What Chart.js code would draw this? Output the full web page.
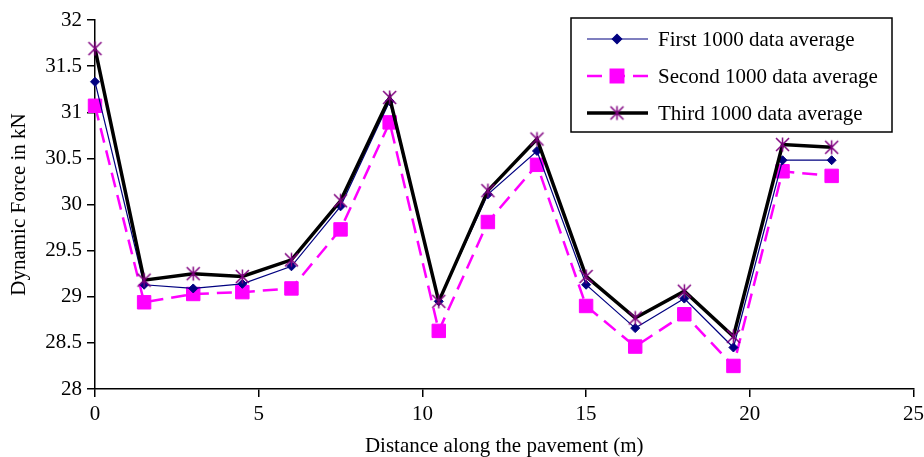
<!DOCTYPE html>
<html>
<head>
<meta charset="utf-8">
<script src="https://cdn.jsdelivr.net/npm/chart.js@4.4.1/dist/chart.umd.min.js"></script>
<style>
  html, body { margin: 0; padding: 0; background: #fff; }
  canvas { display: block; }
</style>
</head>
<body>
<canvas id="chart" width="924" height="457"></canvas>
<script>
// distance along the pavement (m)
const distances = [0, 1.5, 3, 4.5, 6, 7.5, 9, 10.5, 12, 13.5, 15, 16.5, 18, 19.5, 21, 22.5];

// dynamic force averages (kN)
const firstAvg  = [31.33, 29.13, 29.09, 29.14, 29.33, 29.98, 31.12, 28.95, 30.11, 30.58, 29.13, 28.66, 28.98, 28.45, 30.48, 30.48];
const secondAvg = [31.07, 28.94, 29.03, 29.05, 29.09, 29.73, 30.89, 28.63, 29.81, 30.43, 28.90, 28.46, 28.81, 28.25, 30.36, 30.31];
const thirdAvg  = [31.69, 29.18, 29.25, 29.22, 29.40, 30.04, 31.16, 28.95, 30.15, 30.71, 29.22, 28.77, 29.06, 28.57, 30.65, 30.62];

const seriesNames = ["First 1000 data average", "Second 1000 data average", "Third 1000 data average"];

// axis ranges
const xRange = [0, 25, 5];
const yRange = [28, 32, 0.5];

const FONT = "'Liberation Serif', 'Times New Roman', serif";
Chart.defaults.font.family = FONT;
Chart.defaults.font.size = 21;
Chart.defaults.color = "#000";

// excel-like star marker (X plus vertical bar)
function makeStar(color) {
  const c = document.createElement("canvas");
  c.width = 17;
  c.height = 17;
  const g = c.getContext("2d");
  g.strokeStyle = color;
  g.lineWidth = 1.5;
  g.beginPath();
  g.moveTo(2, 2); g.lineTo(15, 15);
  g.moveTo(15, 2); g.lineTo(2, 15);
  g.moveTo(8.5, 1.5); g.lineTo(8.5, 15.5);
  g.stroke();
  return c;
}
const starMarker = makeStar("#800080");

function toPoints(values) {
  return distances.map((d, i) => ({ x: d, y: values[i] }));
}

// legend box drawn inside the plot, like the original
const boxLegend = {
  id: "boxLegend",
  afterDraw(chart) {
    const ctx = chart.ctx;
    const left = 571, top = 18, w = 321, h = 114;
    ctx.save();
    ctx.fillStyle = "#fff";
    ctx.fillRect(left, top, w, h);
    ctx.strokeStyle = "#000";
    ctx.lineWidth = 1.5;
    ctx.strokeRect(left, top, w, h);

    chart.data.datasets.forEach((ds, i) => {
      const y = top + 21 + i * 37;
      ctx.save();
      ctx.strokeStyle = ds.borderColor;
      ctx.lineWidth = ds.borderWidth;
      ctx.setLineDash(ds.borderDash || []);
      ctx.beginPath();
      ctx.moveTo(left + 16, y);
      ctx.lineTo(left + 77, y);
      ctx.stroke();
      ctx.restore();

      ctx.save();
      ctx.fillStyle = ds.pointBackgroundColor;
      ctx.strokeStyle = ds.pointBorderColor;
      Chart.helpers.drawPoint(ctx, {
        pointStyle: ds.pointStyle,
        radius: ds.pointRadius,
        rotation: 0,
        borderWidth: ds.pointBorderWidth
      }, left + 46, y);
      ctx.restore();

      ctx.fillStyle = "#000";
      ctx.font = "21px " + FONT;
      ctx.textAlign = "left";
      ctx.textBaseline = "middle";
      ctx.fillText(ds.label, left + 87, y + 1);
    });
    ctx.restore();
  }
};

new Chart(document.getElementById("chart"), {
  type: "scatter",
  data: {
    datasets: [
      {
        label: seriesNames[0],
        data: toPoints(firstAvg),
        showLine: true,
        borderColor: "#000080",
        borderWidth: 1.2,
        pointStyle: "rectRot",
        pointRadius: 4.5,
        pointBackgroundColor: "#000080",
        pointBorderColor: "#000080",
        pointBorderWidth: 1,
        clip: false,
        order: 1
      },
      {
        label: seriesNames[1],
        data: toPoints(secondAvg),
        showLine: true,
        borderColor: "#FF00FF",
        borderWidth: 2.5,
        borderDash: [15, 8],
        pointStyle: "rect",
        pointRadius: 9.5,
        pointBackgroundColor: "#FF00FF",
        pointBorderColor: "#FF00FF",
        pointBorderWidth: 1,
        clip: false,
        order: 2
      },
      {
        label: seriesNames[2],
        data: toPoints(thirdAvg),
        showLine: true,
        borderColor: "#000000",
        borderWidth: 3.5,
        pointStyle: starMarker,
        pointRadius: 8,
        pointBackgroundColor: "#800080",
        pointBorderColor: "#800080",
        pointBorderWidth: 1,
        clip: false,
        order: 0
      }
    ]
  },
  options: {
    responsive: false,
    animation: false,
    layout: { padding: { top: 20, right: 10, left: 0, bottom: 0 } },
    plugins: {
      legend: { display: false },
      tooltip: { enabled: false }
    },
    scales: {
      x: {
        type: "linear",
        min: xRange[0],
        max: xRange[1],
        ticks: { stepSize: xRange[2], padding: 5, font: { size: 21 } },
        grid: { drawOnChartArea: false, drawTicks: true, tickLength: 8, color: "#000", lineWidth: 1.5 },
        border: { color: "#000", width: 1.5 },
        title: {
          display: true,
          text: "Distance along the pavement (m)",
          font: { size: 21 },
          padding: { top: 0, bottom: -2 }
        },
        afterFit(scale) {
          scale.height = 68;
          scale.paddingRight = 0;
          scale.paddingLeft = 0;
        }
      },
      y: {
        min: yRange[0],
        max: yRange[1],
        ticks: {
          stepSize: yRange[2],
          padding: 5,
          font: { size: 21 },
          callback: (v) => String(v)
        },
        grid: { drawOnChartArea: false, drawTicks: true, tickLength: 8, color: "#000", lineWidth: 1.5 },
        border: { color: "#000", width: 1.5 },
        title: {
          display: true,
          text: "Dynamic Force in kN",
          font: { size: 21 },
          padding: { top: 7, bottom: 0 }
        },
        afterFit(scale) { scale.width = 95; }
      }
    }
  },
  plugins: [boxLegend]
});
</script>
</body>
</html>
